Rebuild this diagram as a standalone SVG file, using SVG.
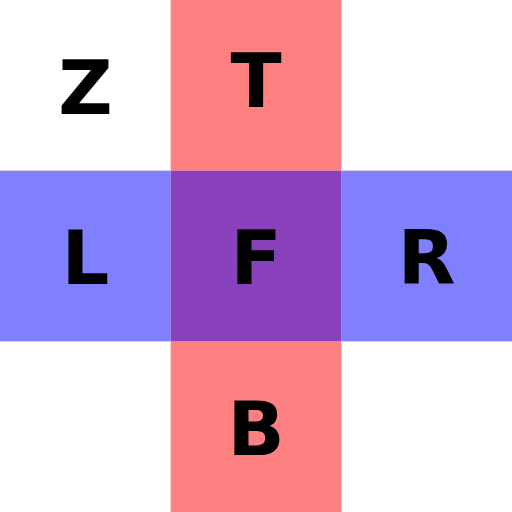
<svg xmlns="http://www.w3.org/2000/svg" width="512" height="512" viewBox="0 0 512 512">
<style>
text{font-family:"DejaVu Sans",sans-serif;font-weight:bold;font-size:75px;fill:#000;text-anchor:middle}
</style>
<rect width="512" height="512" fill="#fff"/>
<g id="T"><rect x="170.67" y="0" width="170.67" height="170.67" fill="#ff8080"/><text x="256" y="106.5">T</text></g>
<g id="B"><rect x="170.67" y="341.33" width="170.67" height="170.67" fill="#ff8080"/><text x="256" y="455">B</text></g>
<g id="L"><rect x="0" y="170.67" width="170.67" height="170.67" fill="#8080ff"/><text x="85.33" y="284">L</text></g>
<g id="R"><rect x="341.33" y="170.67" width="170.67" height="170.67" fill="#8080ff"/><text x="426.67" y="284">R</text></g>
<g id="F"><rect x="170.67" y="170.67" width="170.67" height="170.67" fill="#8840bb"/><text x="256" y="284">F</text></g>
<g id="Z"><text x="85.33" y="113.5">Z</text></g>
<g id="connectors"/>
</svg>
